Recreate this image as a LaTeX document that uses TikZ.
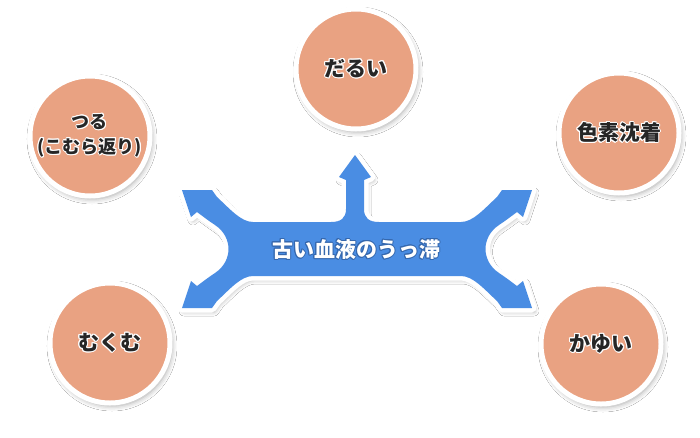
\documentclass[tikz,border=0pt]{standalone}
\usepackage{fontspec}
\usepackage[copies]{contour}
\usepackage{tikz}
\usetikzlibrary{shadows.blur}
\newfontfamily\jpfont{Noto Sans CJK JP}
\definecolor{armblue}{HTML}{4A8DE3}
\definecolor{bubbleorange}{HTML}{E9A282}
\definecolor{labelgray}{HTML}{262626}
\definecolor{titleedge}{HTML}{3568AE}
\contourlength{1pt}
\contournumber{12}

\begin{document}
\begin{tikzpicture}[x=1pt, y=1pt,
  bubble/.style={circle, minimum size=120pt, inner sep=0pt, fill=bubbleorange,
    draw=white, line width=5pt,
    blur shadow={shadow xshift=2pt, shadow yshift=-3pt, shadow blur radius=5pt, shadow opacity=35},
    font=\jpfont\bfseries\fontsize{21}{26}\selectfont, text=labelgray, align=center},
  arrowshape/.style={fill=armblue, line join=round,
    blur shadow={shadow xshift=2pt, shadow yshift=-3pt, shadow blur radius=5pt, shadow opacity=40},
    preaction={draw=white, line width=9pt, line join=round}},
  titletext/.style={font=\jpfont\bfseries\fontsize{21}{24}\selectfont, text=white}]
\fill[white] (-357,-188) rectangle (343,249);
\useasboundingbox (-357,-188) rectangle (343,249);
% center arrow
\path[arrowshape]
 (-2,94) -- (14,72) -- (7,69) -- (7,40)
 .. controls (7,31) and (12,27) .. (22,27)
 -- (104,27)
 .. controls (116,27) and (127,40) .. (140,52)
 -- (145,59) -- (175,59) -- (166,32) -- (160,37)
 .. controls (152,31) and (148,28) .. (142,24)
 .. controls (124,12) and (124,-12) .. (142,-24)
 .. controls (148,-28) and (152,-31) .. (160,-37)
 -- (166,-32) -- (175,-59) -- (145,-59) -- (140,-52)
 .. controls (127,-40) and (116,-27) .. (104,-27)
 -- (-104,-27)
 .. controls (-116,-27) and (-127,-40) .. (-140,-52)
 -- (-145,-59) -- (-175,-59) -- (-166,-32) -- (-160,-37)
 .. controls (-152,-31) and (-148,-28) .. (-142,-24)
 .. controls (-124,-12) and (-124,12) .. (-142,24)
 .. controls (-148,28) and (-152,31) .. (-160,37)
 -- (-166,32) -- (-175,59) -- (-145,59) -- (-140,52)
 .. controls (-127,40) and (-116,27) .. (-104,27)
 -- (-26,27)
 .. controls (-16,27) and (-11,31) .. (-11,40)
 -- (-11,69) -- (-18,72) -- cycle;
\node[titletext] (title) at (-1,-1) {\contour{titleedge}{古い血液のうっ滞}};
% circles
\node[bubble] (darui) at (-1,180) {\contour{white}{だるい}};
\node[bubble, font=\jpfont\bfseries\fontsize{18}{25}\selectfont] (tsuru) at (-267,113)
  {\contour{white}{つる}\\\contour{white}{(こむら返り)}};
\node[bubble] (shikiso) at (262,116) {\contour{white}{色素沈着}};
\node[bubble] (mukumu) at (-247,-94) {\contour{white}{むくむ}};
\node[bubble] (kayui) at (244,-95) {\contour{white}{かゆい}};
\end{tikzpicture}
\end{document}
